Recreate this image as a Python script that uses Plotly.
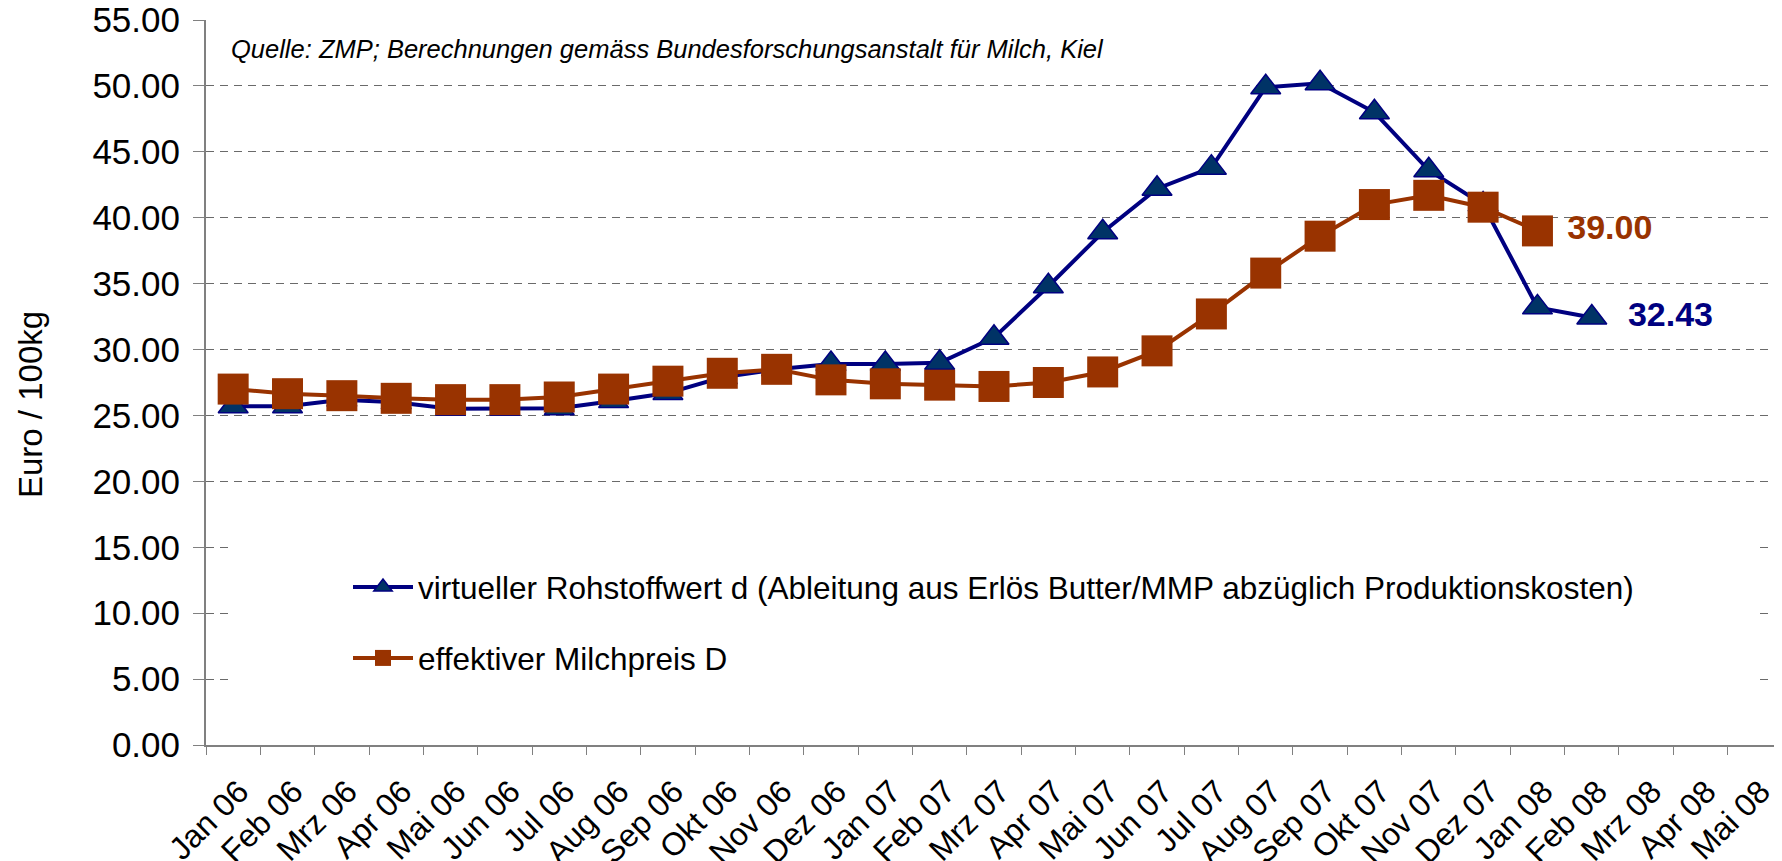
import plotly.graph_objects as go

months = ["Jan 06", "Feb 06", "Mrz 06", "Apr 06", "Mai 06", "Jun 06", "Jul 06", "Aug 06",
          "Sep 06", "Okt 06", "Nov 06", "Dez 06", "Jan 07", "Feb 07", "Mrz 07", "Apr 07",
          "Mai 07", "Jun 07", "Jul 07", "Aug 07", "Sep 07", "Okt 07", "Nov 07", "Dez 07",
          "Jan 08", "Feb 08", "Mrz 08", "Apr 08", "Mai 08"]

rohstoffwert = [25.7, 25.7, 26.2, 26.0, 25.5, 25.5, 25.55, 26.1, 26.7, 27.9, 28.5, 28.9,
                28.9, 29.0, 30.9, 34.8, 38.9, 42.2, 43.8, 49.9, 50.2, 48.0, 43.6, 41.0,
                33.2, 32.43]

milchpreis = [27.0, 26.65, 26.5, 26.3, 26.2, 26.2, 26.4, 27.0, 27.6, 28.2, 28.5, 27.7,
              27.4, 27.3, 27.2, 27.5, 28.3, 29.9, 32.7, 35.8, 38.6, 41.0, 41.7, 40.8, 39.0]

name_blue = "virtueller Rohstoffwert d (Ableitung aus Erlös Butter/MMP abzüglich Produktionskosten)"
name_orange = "effektiver Milchpreis D"
source_text = "Quelle: ZMP; Berechnungen gemäss Bundesforschungsanstalt für Milch, Kiel"
y_title = "Euro / 100kg"

FONT = "Liberation Sans, Arial, sans-serif"
BLUE = "#000080"
BLUE_FILL = "#003366"
BROWN = "#993300"

# the page body has an 8px margin; the figure is sized so that it fills the window
BODY = 8
W, H = 1782 - BODY, 861 - BODY
ML, MT = 206 - BODY, 20 - BODY
PLOT_BOTTOM = 745 - BODY
MB = H - PLOT_BOTTOM
MR = 0
PW = W - ML - MR
PH = H - MT - MB


def px_x(page_px):
    return (page_px - BODY - ML) / PW


def px_y(page_py):
    return (PLOT_BOTTOM - (page_py - BODY)) / PH


NB = "\u00a0"
blue_text = [""] * (len(rohstoffwert) - 1) + [NB * 2 + f"{rohstoffwert[-1]:.2f}"]
orange_text = [""] * (len(milchpreis) - 1) + [NB + f"{milchpreis[-1]:.2f}"]

fig = go.Figure()
fig.add_trace(go.Scatter(
    x=months[:len(rohstoffwert)], y=rohstoffwert, name=name_blue,
    mode="lines+markers+text", text=blue_text, textposition="middle right",
    textfont=dict(family=FONT, size=34, color=BLUE, weight="bold"),
    line=dict(color=BLUE, width=4),
    marker=dict(symbol="triangle-up", size=26, color=BLUE_FILL, line=dict(color=BLUE, width=1.5)),
    legendgroup="a", cliponaxis=False,
))
fig.add_trace(go.Scatter(
    x=months[:len(milchpreis)], y=milchpreis, name=name_orange,
    mode="lines+markers+text", text=orange_text, textposition="middle right",
    textfont=dict(family=FONT, size=34, color=BROWN, weight="bold"),
    line=dict(color=BROWN, width=4),
    marker=dict(symbol="square", size=31, color=BROWN, line=dict(color=BROWN, width=0)),
    legendgroup="b", cliponaxis=False,
))

fig.update_layout(
    width=W, height=H,
    margin=dict(l=ML, r=MR, t=MT, b=MB, autoexpand=False),
    paper_bgcolor="white", plot_bgcolor="white",
    font=dict(family=FONT, size=31, color="black"),
    showlegend=True,
    legend=dict(
        x=px_x(348), y=px_y(560), xanchor="left", yanchor="top",
        bgcolor="rgba(0,0,0,0)", font=dict(family=FONT, size=31.5, color="black"),
        traceorder="grouped", tracegroupgap=27, itemwidth=60,
    ),
    shapes=[dict(type="rect", xref="paper", yref="y", layer="above",
                 x0=px_x(229), x1=px_x(1756), y0=3.0, y1=19.3,
                 fillcolor="white", line=dict(width=0))],
    annotations=[
        dict(text=source_text, xref="paper", yref="paper",
             x=px_x(229), y=px_y(49), xanchor="left", yanchor="middle",
             showarrow=False,
             font=dict(family=FONT, size=25.5, color="black", style="italic")),
        dict(text=y_title, xref="paper", yref="paper", textangle=-90,
             x=px_x(31), y=px_y(405), xanchor="center", yanchor="middle",
             showarrow=False, font=dict(family=FONT, size=33, color="black")),
    ],
)

fig.update_xaxes(
    type="category", categoryorder="array", categoryarray=months,
    range=[-0.5, len(months) - 0.5],
    tickmode="array", tickvals=months, ticktext=months,
    tickson="boundaries", ticks="outside", ticklen=8, tickcolor="#808080",
    tickangle=-45, tickfont=dict(family=FONT, size=32, color="black"),
    ticklabelstandoff=13, ticklabelshift=6, ticklabeloverflow="allow",
    showline=True, linecolor="#808080", linewidth=2,
    showgrid=False, zeroline=False,
)
fig.update_yaxes(
    range=[0, 55], dtick=5, tick0=0, tickformat=".2f",
    ticks="outside", ticklen=11, tickcolor="#808080", ticklabelstandoff=6,
    ticklabeloverflow="allow",
    tickfont=dict(family=FONT, size=35, color="black"),
    showline=True, linecolor="#808080", linewidth=2,
    showgrid=True, gridcolor="#6a6a6a", gridwidth=1, griddash="8px,6px",
    zeroline=False,
)

fig.write_html("out.html")
